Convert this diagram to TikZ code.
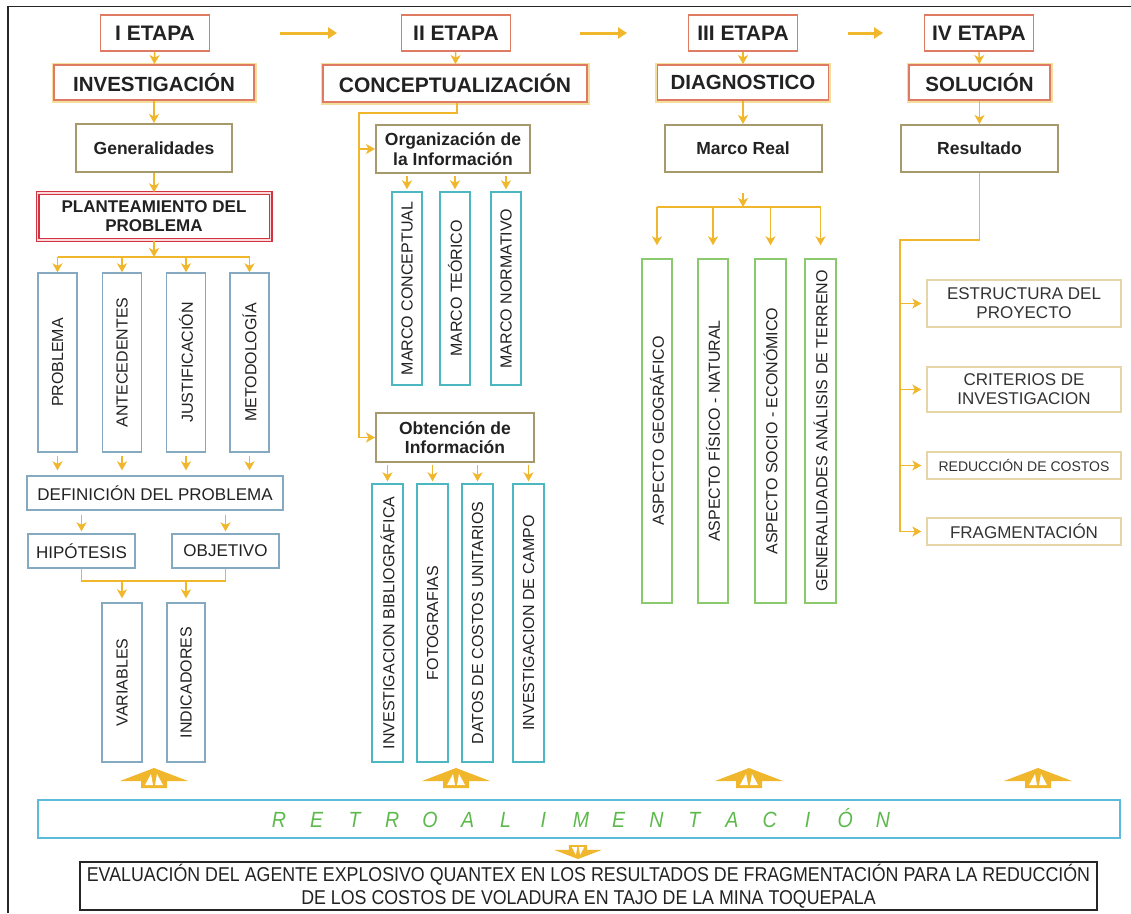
\documentclass[tikz,border=0pt]{standalone}
\usepackage{fontspec}
\setmainfont{Liberation Sans}
\newfontfamily\narrowfont[FakeStretch=0.89]{Liberation Sans}
\usetikzlibrary{arrows.meta,positioning}

\definecolor{arrowyel}{HTML}{F0B62C}
\definecolor{etapared}{HTML}{DE7B62}
\definecolor{paleyel}{HTML}{F3DE9C}
\definecolor{khaki}{HTML}{A69A6C}
\definecolor{planred}{HTML}{CF3440}
\definecolor{steelblue}{HTML}{86A9C2}
\definecolor{tealbox}{HTML}{4DB7C1}
\definecolor{greenbox}{HTML}{8AC96C}
\definecolor{tanbox}{HTML}{E6D5A6}
\definecolor{retroblue}{HTML}{5CBBDA}
\definecolor{retrogreen}{HTML}{5DB94B}
\definecolor{inktext}{HTML}{222222}

\tikzset{
  box/.style={fill=white, inner sep=0pt, text=inktext, align=center},
  etapa/.style={box, draw=etapared, line width=1.6pt, minimum width=109pt, minimum height=36pt,
    font=\fontsize{21}{24}\selectfont\bfseries},
  phase/.style={box, preaction={draw=paleyel, line width=5pt}, draw=etapared, line width=1.8pt,
    minimum height=35pt, font=\fontsize{20.5}{24}\selectfont\bfseries},
  khakibox/.style={box, draw=khaki, line width=2pt, minimum width=157pt, minimum height=48pt,
    font=\fontsize{17.5}{19.5}\selectfont\bfseries},
  planbox/.style={box, draw=planred, double=pink!60, double distance=1.2pt, line width=1.4pt,
    font=\fontsize{17}{19}\selectfont\bfseries},
  bluebox/.style={box, draw=steelblue, line width=1.3pt, minimum height=34pt,
    font=\fontsize{17}{20}\selectfont},
  vbox/.style={box, rotate=90, line width=1.4pt, minimum height=30pt,
    font=\fontsize{16}{19}\selectfont},
  tanrbox/.style={box, draw=tanbox, line width=1.3pt, minimum width=194pt,
    font=\fontsize{17}{19}\selectfont, text=black!80},
  conn/.style={draw=arrowyel, line width=1.5pt},
  arr/.style={conn, -{Stealth[length=9pt,width=10pt,inset=2.5pt]}},
  stagearr/.style={draw=arrowyel, line width=3pt, -{Triangle[length=9pt,width=11pt]}},
  fbarrow/.pic={
    \fill[arrowyel] (-34,3) -- (0,-10) -- (34,3) -- (13,3) -- (13,10) -- (-13,10) -- (-13,3) -- cycle;
    \fill[white] (-9,7) -- (-3,-4) -- (-1,7) -- cycle;
    \fill[white] (9,7) -- (3,-4) -- (1,7) -- cycle;
  }
}

\begin{document}
\begin{tikzpicture}[x=1pt,y=-1pt]
  \useasboundingbox (0,0) rectangle (1131,913);
  %% frame
  \draw[line width=1.6pt, black!85] (8,913) -- (8,6.5) -- (1131,6.5);

  %% I etapa
  \node[etapa] (e1) at (155,33) {I ETAPA};
  \node[phase, minimum width=200pt] (inv) at (154,82.5) {INVESTIGACIÓN};
  \node[khakibox, minimum width=156pt] (gen) at (154,148) {Generalidades};
  \node[planbox, minimum width=233pt, minimum height=47pt] (plan) at (154,216.5) {PLANTEAMIENTO DEL\\PROBLEMA};
  \node[vbox, draw=steelblue, minimum width=179pt, minimum height=39pt] (pA) at (57.5,362.5) {PROBLEMA};
  \node[vbox, draw=steelblue, minimum width=179pt, minimum height=39pt] (pB) at (122,362.5) {ANTECEDENTES};
  \node[vbox, draw=steelblue, minimum width=179pt, minimum height=39pt] (pC) at (186,362.5) {JUSTIFICACIÓN};
  \node[vbox, draw=steelblue, minimum width=179pt, minimum height=39pt] (pD) at (249.5,362.5) {METODOLOGÍA};
  \node[bluebox, minimum width=256pt] (def) at (155,493) {DEFINICIÓN DEL PROBLEMA};
  \node[bluebox, minimum width=107pt] (hip) at (81.5,551) {HIPÓTESIS};
  \node[bluebox, minimum width=107pt] (obj) at (225.5,551) {OBJETIVO};
  \node[vbox, draw=steelblue, minimum width=159pt, minimum height=40pt] (var) at (122,682.5) {VARIABLES};
  \node[vbox, draw=steelblue, minimum width=159pt, minimum height=38pt] (ind) at (186,682.5) {INDICADORES};

  \draw[arr] (e1) -- (inv);
  \draw[arr] (inv) -- (gen);
  \draw[arr] (gen) -- (plan);
  \coordinate (fork1) at (154,257);
  \draw[arr] (plan) -- (fork1);
  \draw[conn] (fork1 -| pA) -- (fork1 -| pD);
  \foreach \n in {pA,pB,pC,pD} {
    \draw[arr] (fork1 -| \n) -- (\n.east);
    \draw[arr, shorten <=3pt, shorten >=5pt] (\n.west) -- (\n.west |- def.north);
  }
  \draw[arr, shorten <=4pt, shorten >=2pt] (def.south -| hip) -- (hip);
  \draw[arr, shorten <=4pt, shorten >=2pt] (def.south -| obj) -- (obj);
  \coordinate (join1) at (154,581);
  \draw[conn] (hip.south) |- (join1) -| (obj.south);
  \draw[arr, shorten >=4pt] (join1 -| var) -- (var.east);
  \draw[arr, shorten >=4pt] (join1 -| ind) -- (ind.east);

  %% II etapa
  \node[etapa] (e2) at (456,33) {II ETAPA};
  \node[phase, minimum width=264pt, minimum height=37pt, font=\fontsize{21}{24}\selectfont\bfseries] (conc) at (455,83.5) {CONCEPTUALIZACIÓN};
  \node[khakibox, minimum width=154pt] (org) at (453,149) {Organización de\\la Información};
  \node[vbox, draw=tealbox, minimum width=193pt] (mC) at (407,288.5) {MARCO CONCEPTUAL};
  \node[vbox, draw=tealbox, minimum width=193pt] (mT) at (455,288.5) {MARCO TEÓRICO};
  \node[vbox, draw=tealbox, minimum width=193pt] (mN) at (506,288.5) {MARCO NORMATIVO};
  \node[khakibox, minimum width=158pt, minimum height=49pt] (obt) at (455,437.5) {Obtención de\\Información};
  \node[vbox, draw=tealbox, minimum width=278pt, minimum height=31pt] (oB) at (387.5,623) {INVESTIGACION BIBLIOGRÁFICA};
  \node[vbox, draw=tealbox, minimum width=278pt, minimum height=31pt] (oF) at (432.5,623) {FOTOGRAFIAS};
  \node[vbox, draw=tealbox, minimum width=278pt, minimum height=31pt] (oD) at (477.5,623) {DATOS DE COSTOS UNITARIOS};
  \node[vbox, draw=tealbox, minimum width=278pt, minimum height=31pt] (oC) at (528.5,623) {INVESTIGACION DE CAMPO};

  \draw[arr] (e2) -- (conc);
  \coordinate (spine2) at (359,113);
  \draw[arr] (conc.south -| 457,0) |- (spine2) |- (obt.west);
  \draw[arr] (spine2 |- org.west) -- (org.west);
  \foreach \n in {mC,mT,mN}
    \draw[arr, shorten <=2pt, shorten >=2pt] (org.south -| \n) -- (\n.east);
  \foreach \n in {oB,oF,oD,oC}
    \draw[arr, shorten <=2pt, shorten >=2pt] (obt.south -| \n) -- (\n.east);

  %% III etapa
  \node[etapa] (e3) at (743,33) {III ETAPA};
  \node[phase, minimum width=171pt] (diag) at (743,82.5) {DIAGNOSTICO};
  \node[khakibox, minimum height=47pt] (mr) at (743,148.5) {Marco Real};
  \node[vbox, draw=greenbox, minimum width=344pt] (gA) at (657,431) {ASPECTO GEOGRÁFICO};
  \node[vbox, draw=greenbox, minimum width=344pt] (gB) at (713,431) {ASPECTO FÍSICO - NATURAL};
  \node[vbox, draw=greenbox, minimum width=344pt, minimum height=31pt] (gC) at (770.5,431) {ASPECTO SOCIO - ECONÓMICO};
  \node[vbox, draw=greenbox, minimum width=344pt, minimum height=31pt] (gD) at (820.5,431) {GENERALIDADES ANÁLISIS DE TERRENO};

  \draw[arr] (e3) -- (diag);
  \draw[arr] (diag) -- (mr);
  \coordinate (fork3) at (743,207);
  \draw[arr, shorten <=20pt] (mr) -- (fork3);
  \draw[conn] (fork3 -| gA) -- (fork3 -| gD);
  \foreach \n in {gA,gB,gC,gD}
    \draw[arr, shorten >=13pt] (fork3 -| \n) -- (\n.east);

  %% IV etapa
  \node[etapa] (e4) at (979,33) {IV ETAPA};
  \node[phase, minimum width=141pt] (sol) at (979.5,82.5) {SOLUCIÓN};
  \node[khakibox, minimum height=47pt] (res) at (979.5,148.5) {Resultado};
  \node[tanrbox, minimum height=47pt] (est) at (1024,303.5) {ESTRUCTURA DEL\\PROYECTO};
  \node[tanrbox, minimum height=45pt] (cri) at (1024,389.5) {CRITERIOS DE\\INVESTIGACION};
  \node[tanrbox, minimum height=27pt, font=\fontsize{14}{16}\selectfont] (red) at (1024,465.5) {REDUCCIÓN DE COSTOS};
  \node[tanrbox, minimum height=27pt] (frag) at (1024,531.5) {FRAGMENTACIÓN};

  \draw[arr] (e4) -- (sol);
  \draw[arr] (sol) -- (res);
  \coordinate (spine4) at (900,240);
  \draw[arr, shorten >=5pt] (res.south) |- (spine4) |- (frag.west);
  \foreach \n in {est,cri,red}
    \draw[arr, shorten >=5pt] (spine4 |- \n.west) -- (\n.west);

  %% stage arrows
  \coordinate (s1a) at (280,33); \coordinate (s1b) at (337,33);
  \coordinate (s2a) at (580,33); \coordinate (s2b) at (627,33);
  \coordinate (s3a) at (848,33); \coordinate (s3b) at (883,33);
  \draw[stagearr] (s1a) -- (s1b);
  \draw[stagearr] (s2a) -- (s2b);
  \draw[stagearr] (s3a) -- (s3b);

  %% feedback
  \foreach \x in {154,456,749,1038}
    \pic at (\x,778) {fbarrow};
  \node[draw=retroblue, line width=2pt, minimum width=1082pt, minimum height=38pt, inner sep=0pt] (retro) at (579,819) {};
  \foreach \l [count=\i from 0] in {R,E,T,R,O,A,L,I,M,E,N,T,A,C,I,Ó,N}
    \node[text=retrogreen, anchor=base, inner sep=0pt, font=\narrowfont\itshape\fontsize{22}{24}\selectfont] (r\i) at (279+37.75*\i,827) {\l};
  \pic[rotate=180, scale=0.7] at (578,852) {fbarrow};

  %% title
  \node[draw=black!85, line width=1.3pt, minimum width=1017pt, minimum height=48pt, inner sep=0pt, align=center,
    font=\narrowfont\fontsize{20}{22.5}\selectfont, text=inktext] (eval) at (588.5,886)
    {EVALUACIÓN DEL AGENTE EXPLOSIVO QUANTEX EN LOS RESULTADOS DE FRAGMENTACIÓN PARA LA REDUCCIÓN\\
     DE LOS COSTOS DE VOLADURA EN TAJO DE LA MINA TOQUEPALA};
\end{tikzpicture}
\end{document}
